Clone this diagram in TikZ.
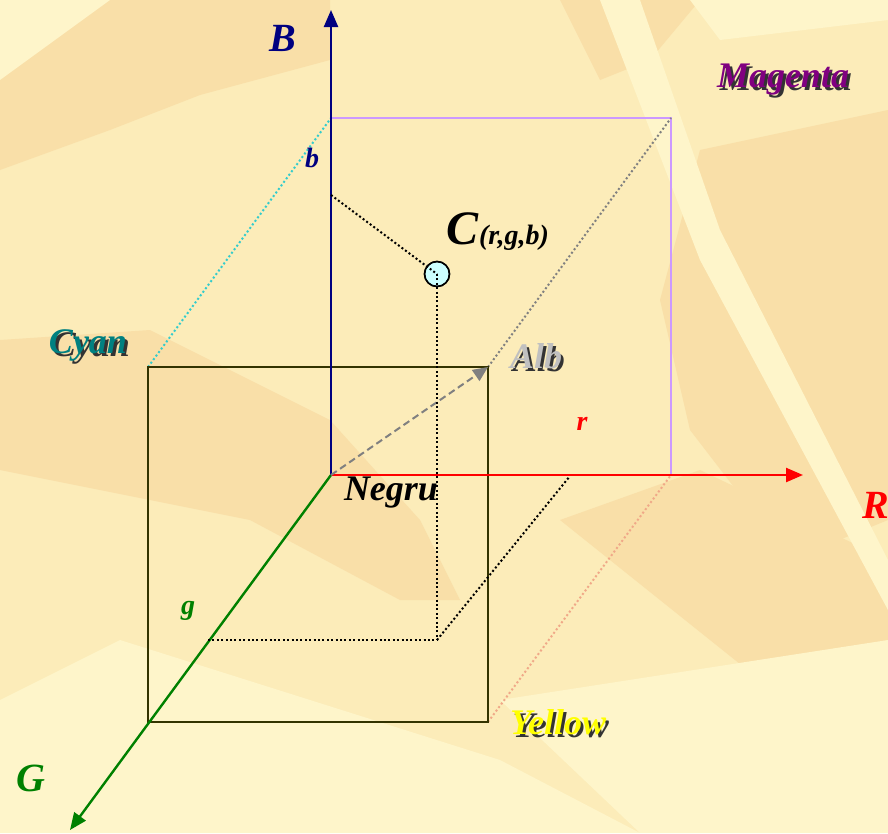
\documentclass[tikz,border=0pt]{standalone}
\usepackage{fontspec}
\setmainfont{Liberation Serif}
\usetikzlibrary{arrows.meta,calc}
\definecolor{bgbase}{HTML}{FCECB9}
\definecolor{bgdark}{HTML}{F9DFA8}
\definecolor{bglight}{HTML}{FEF5CA}
\definecolor{navyc}{HTML}{000080}
\definecolor{redc}{HTML}{FF0000}
\definecolor{greenc}{HTML}{008000}
\definecolor{tealc}{HTML}{008080}
\definecolor{purplec}{HTML}{800080}
\definecolor{silverc}{HTML}{C0C0C0}
\definecolor{yellowc}{HTML}{FFFF00}
\definecolor{lilac}{HTML}{CC99FF}
\definecolor{olivec}{HTML}{333300}
\definecolor{cyandot}{HTML}{33CCCC}
\definecolor{salmondot}{HTML}{F0A888}
\definecolor{cfill}{HTML}{CCFFFF}
\newcommand\shadowed[2]{{\color{black!80}\rlap{\kern2.8pt\raisebox{-2.8pt}{#2}}}{\color{#1}#2}}
\tikzset{
  lab/.style={font=\fontsize{36}{40}\selectfont\bfseries\itshape, inner sep=0pt},
  axlab/.style={font=\fontsize{40}{44}\selectfont\bfseries\itshape, inner sep=0pt},
  smlab/.style={font=\fontsize{28}{32}\selectfont\bfseries\itshape, inner sep=0pt},
  axis/.style={line width=2.4pt, -{Triangle[length=17pt,width=14pt]}},
  dotblk/.style={black, line width=2pt, dash pattern=on 2pt off 2.4pt},
  dotc/.style={line width=2pt, dash pattern=on 2pt off 2.4pt},
}
\begin{document}
\begin{tikzpicture}[x=1pt,y=-1pt]
% background
\fill[bgbase] (0,0) rectangle (888,833);
\useasboundingbox (0,0) rectangle (888,833);
\fill[bgdark] (0,0) -- (330,0) -- (330,60) -- (200,95) -- (110,130) -- (0,170) -- cycle;
\fill[bgdark] (560,0) -- (700,0) -- (650,60) -- (600,80) -- cycle;
\fill[bgdark] (700,150) -- (888,110) -- (888,520) -- (790,560) -- (690,430) -- (660,300) -- cycle;
\fill[bgdark] (0,340) -- (150,330) -- (330,420) -- (420,520) -- (460,600) -- (400,600) -- (250,520) -- (0,470) -- cycle;
\fill[bgdark] (560,520) -- (700,470) -- (888,560) -- (888,700) -- (760,680) -- cycle;
\fill[bglight] (0,0) -- (110,0) -- (0,80) -- cycle;
\fill[bglight] (600,0) -- (640,0) -- (720,230) -- (888,560) -- (888,610) -- (700,260) -- cycle;
\fill[bglight] (690,0) -- (888,0) -- (888,20) -- (720,40) -- cycle;
\fill[bglight] (0,700) -- (120,640) -- (500,760) -- (640,833) -- (0,833) -- cycle;
\fill[bglight] (500,700) -- (888,640) -- (888,833) -- (640,833) -- cycle;

% coordinates
\coordinate (O) at (331,475);
\coordinate (Btip) at (331,10);
\coordinate (Rtip) at (803,475);
\coordinate (Gtip) at (70,830);
\coordinate (BS1) at (331,118);
\coordinate (BS2) at (671,118);
\coordinate (BS3) at (671,475);
\coordinate (F1) at (148,367);
\coordinate (F2) at (488,367);
\coordinate (F3) at (488,722);
\coordinate (F4) at (148,722);
\coordinate (Pb) at (331,195);
\coordinate (Pg) at (437,640);
\coordinate (Pgg) at (208,640);
\coordinate (Pr) at (570,476);

% back square
\draw[lilac, line width=1.6pt] (BS1) -- (BS2) -- (BS3);
% connecting dotted edges
\draw[dotc, cyandot] (F1) -- (BS1);
\draw[dotc, gray] (F2) -- (BS2);
\draw[dotc, salmondot] (F3) -- (BS3);
% front square
\draw[olivec, line width=2.2pt] (F1) rectangle (F3);

% axes
\draw[axis, navyc] (O) -- (Btip);
\draw[axis, redc] (O) -- (Rtip);
\draw[axis, greenc] (O) -- (Gtip);
% diagonal to white
\draw[gray, line width=2pt, dash pattern=on 7pt off 4pt, -{Triangle[length=15pt,width=13pt]}] (O) -- (F2);

% point C
\node[circle, draw=black, line width=1.5pt, fill=cfill, minimum size=25pt, inner sep=0pt] (C) at (437,274) {};
\draw[dotblk] (Pb) -- (C.center);
\draw[dotblk] (C.center) -- (Pg);
\draw[dotblk] (Pgg) -- (Pg);
\draw[dotblk] (Pg) -- (Pr);
\draw[black, line width=1.5pt] (C) circle (12.5pt);

% labels
\node[axlab, text=navyc] (lB) at (283,38) {B};
\node[axlab, text=redc] (lR) at (876,505) {R};
\node[axlab, text=greenc] (lG) at (31,778) {G};
\node[smlab, text=navyc] (lb) at (312,158) {b};
\node[smlab, text=redc] (lr) at (582,424) {r};
\node[smlab, text=greenc] (lg) at (188,611) {g};
\node[lab] (lN) at (391,493) {Negru};
\node[inner sep=0pt] (lC) at (498,232) {\bfseries\itshape{\fontsize{48}{50}\selectfont C}{\fontsize{28}{30}\selectfont (r,g,b)}};
\node[lab] (lCyan) at (88,347) {\shadowed{tealc}{Cyan}};
\node[lab] (lMag) at (783,81) {\shadowed{purplec}{Magenta}};
\node[lab] (lAlb) at (536,358) {\shadowed{silverc}{Alb}};
\node[lab] (lY) at (558,724) {\shadowed{yellowc}{Yellow}};
\end{tikzpicture}
\end{document}
